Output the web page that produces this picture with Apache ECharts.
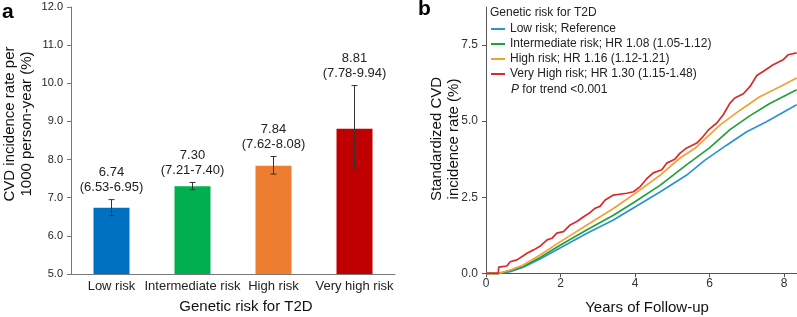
<!DOCTYPE html>
<html>
<head>
<meta charset="utf-8">
<script src="https://cdn.jsdelivr.net/npm/echarts@6/dist/echarts.min.js"></script>
<style>
  html, body { margin: 0; padding: 0; background: #fff; }
  #chart { width: 797px; height: 317px; }
</style>
</head>
<body>
<div id="chart"></div>
<script>
// panel a: incidence rate per 1000 person-year
const categories = ['Low risk', 'Intermediate risk', 'High risk', 'Very high risk']
const rates = [6.74, 7.30, 7.84, 8.81]
const lowerCI = [6.53, 7.21, 7.62, 7.78]
const upperCI = [6.95, 7.40, 8.08, 9.94]
const rateTicks = [5, 6, 7, 8, 9, 10, 11, 12]

// panel b: standardized cumulative incidence, [year, %]
const lowRisk = [[0, 0], [0.35, 0], [0.65, 0.05], [1.0, 0.2], [1.45, 0.47], [2.0, 0.84], [2.7, 1.31], [3.42, 1.75],
  [4.0, 2.18], [4.67, 2.67], [5.38, 3.22], [5.88, 3.72], [6.46, 4.21], [7.0, 4.65], [7.53, 4.98], [8.34, 5.54]]
const intermediateRisk = [[0, 0], [0.35, 0], [0.65, 0.09], [1.0, 0.22], [1.45, 0.52], [2.0, 0.93], [2.7, 1.42], [3.42, 1.91],
  [4.0, 2.35], [4.67, 2.89], [5.4, 3.58], [6.0, 4.12], [6.55, 4.72], [7.09, 5.18], [7.62, 5.58], [8.34, 6.03]]
const highRisk = [[0, 0], [0.35, 0], [0.65, 0.11], [1.0, 0.27], [1.45, 0.6], [2.0, 1.04], [2.7, 1.58], [3.42, 2.13],
  [4.0, 2.62], [4.67, 3.22], [5.2, 3.78], [5.6, 4.1], [6.28, 4.87], [6.82, 5.36], [7.35, 5.8], [7.89, 6.13], [8.34, 6.42]]
const veryHighRisk = [[0, 0], [0.33, 0], [0.34, 0.2], [0.56, 0.24], [0.65, 0.38], [0.83, 0.44], [0.97, 0.55], [1.10, 0.66],
  [1.28, 0.77], [1.46, 0.9], [1.64, 1.1], [1.77, 1.15], [1.90, 1.32], [2.08, 1.37], [2.26, 1.59], [2.44, 1.7],
  [2.62, 1.86], [2.80, 2.0], [2.93, 2.14], [3.06, 2.2], [3.20, 2.41], [3.42, 2.57], [3.78, 2.63], [3.96, 2.68],
  [4.14, 2.85], [4.31, 3.1], [4.49, 3.3], [4.72, 3.4], [4.85, 3.62], [5.07, 3.75], [5.21, 3.95], [5.39, 4.12],
  [5.66, 4.28], [5.79, 4.44], [5.97, 4.71], [6.19, 4.93], [6.37, 5.21], [6.55, 5.59], [6.68, 5.76], [6.91, 5.9],
  [7.09, 6.14], [7.27, 6.5], [7.44, 6.63], [7.71, 6.85], [7.98, 7.02], [8.11, 7.18], [8.34, 7.24]]
const curveNames = [
  'Low risk; Reference',
  'Intermediate risk; HR 1.08 (1.05-1.12)',
  'High risk; HR 1.16 (1.12-1.21)',
  'Very High risk; HR 1.30 (1.15-1.48)'
]
const yearTicks = [0, 2, 4, 6, 8]
const incidenceTicks = [0, 2.5, 5, 7.5]

const FONT = '"Liberation Sans", Arial, Helvetica, sans-serif'
const barColors = ['#0070c0', '#00b050', '#ed7d31', '#c00000']
const lineColors = ['#2b93d6', '#22a03a', '#f5a033', '#d92a2c']
const axisGray = '#777'

const chart = echarts.init(document.getElementById('chart'))

const errorData = categories.map((c, i) => [i, lowerCI[i], upperCI[i], rates[i]])

const renderError = (params, api) => {
  const lo = api.coord([api.value(0), api.value(1)])
  const hi = api.coord([api.value(0), api.value(2)])
  const x = lo[0]
  const line = { stroke: '#333', lineWidth: 1 }
  const i = params.dataIndex
  return {
    type: 'group',
    children: [
      { type: 'line', shape: { x1: x, y1: lo[1], x2: x, y2: hi[1] }, style: line },
      { type: 'line', shape: { x1: x - 3, y1: lo[1], x2: x + 3, y2: lo[1] }, style: line },
      { type: 'line', shape: { x1: x - 3, y1: hi[1], x2: x + 3, y2: hi[1] }, style: line },
      {
        type: 'text',
        x: x,
        y: hi[1] - 5,
        style: {
          text: rates[i].toFixed(2) + '\n(' + lowerCI[i].toFixed(2) + '-' + upperCI[i].toFixed(2) + ')',
          align: 'center',
          verticalAlign: 'bottom',
          fontSize: 13,
          fontFamily: FONT,
          lineHeight: 15,
          fill: '#222'
        }
      }
    ]
  }
}

const curves = [lowRisk, intermediateRisk, highRisk, veryHighRisk]

const option = {
  animation: false,
  textStyle: { fontFamily: FONT },
  grid: [
    { left: 71, top: 7, width: 324, height: 267 },
    { left: 486, top: 7, width: 311, height: 266.3 }
  ],
  xAxis: [
    {
      type: 'category',
      gridIndex: 0,
      data: categories,
      axisLine: { lineStyle: { color: axisGray } },
      axisTick: { show: false },
      axisLabel: { fontSize: 13, color: '#222', margin: 6, interval: 0 }
    },
    {
      type: 'value',
      gridIndex: 1,
      min: 0,
      max: 8.35,
      splitLine: { show: false },
      axisLine: { lineStyle: { color: '#555' } },
      axisTick: { length: 4, customValues: yearTicks, lineStyle: { color: '#555' } },
      axisLabel: { fontSize: 12, color: '#333', margin: 4, customValues: yearTicks }
    }
  ],
  yAxis: [
    {
      type: 'value',
      gridIndex: 0,
      min: 5,
      max: 12,
      interval: 1,
      splitLine: { show: false },
      axisLine: { show: true, lineStyle: { color: axisGray } },
      axisTick: { show: true, length: 4, customValues: rateTicks, lineStyle: { color: axisGray } },
      axisLabel: { fontSize: 11, color: '#222', margin: 8, customValues: rateTicks, formatter: v => v.toFixed(1) }
    },
    {
      type: 'value',
      gridIndex: 1,
      min: 0,
      max: 8.75,
      splitLine: { show: false },
      axisLine: { show: true, lineStyle: { color: '#555' } },
      axisTick: { show: true, length: 4, customValues: incidenceTicks, lineStyle: { color: '#555' } },
      axisLabel: { fontSize: 12, color: '#333', margin: 8, customValues: incidenceTicks, formatter: v => v.toFixed(1) }
    }
  ],
  legend: {
    orient: 'vertical',
    left: 491,
    top: 22,
    padding: 0,
    icon: 'rect',
    itemWidth: 14,
    itemHeight: 2,
    itemGap: 1,
    data: curveNames,
    textStyle: { fontSize: 12, color: '#222', lineHeight: 14 }
  },
  graphic: [
    { type: 'text', x: 2, y: 12.5, style: { text: 'a', font: 'bold 21px ' + FONT, fill: '#000', verticalAlign: 'middle' } },
    { type: 'text', x: 418, y: 9.5, style: { text: 'b', font: 'bold 21px ' + FONT, fill: '#000', verticalAlign: 'middle' } },
    {
      type: 'text', x: 18, y: 124, rotation: Math.PI / 2,
      style: { text: 'CVD incidence rate per\n1000 person-year (%)', font: '15px ' + FONT, lineHeight: 17, fill: '#111', align: 'center', verticalAlign: 'middle' }
    },
    {
      type: 'text', x: 445, y: 139, rotation: Math.PI / 2,
      style: { text: 'Standardized CVD\nincidence rate (%)', font: '15px ' + FONT, lineHeight: 17, fill: '#111', align: 'center', verticalAlign: 'middle' }
    },
    { type: 'text', x: 246, y: 307, style: { text: 'Genetic risk for T2D', font: '15px ' + FONT, fill: '#111', align: 'center', verticalAlign: 'middle' } },
    { type: 'text', x: 647, y: 308, style: { text: 'Years of Follow-up', font: '15px ' + FONT, fill: '#111', align: 'center', verticalAlign: 'middle' } },
    { type: 'text', x: 490, y: 13, style: { text: 'Genetic risk for T2D', font: '12px ' + FONT, fill: '#222', verticalAlign: 'middle' } },
    {
      type: 'text', x: 511, y: 89.5,
      style: {
        text: '{i|P} for trend <0.001',
        font: '12px ' + FONT,
        fill: '#222',
        verticalAlign: 'middle',
        rich: { i: { fontStyle: 'italic', fontSize: 12, fontFamily: FONT, fill: '#222' } }
      }
    }
  ],
  series: [
    {
      type: 'bar',
      xAxisIndex: 0,
      yAxisIndex: 0,
      barWidth: 36,
      data: rates.map((v, i) => ({ value: v, itemStyle: { color: barColors[i] } }))
    },
    {
      type: 'custom',
      xAxisIndex: 0,
      yAxisIndex: 0,
      renderItem: renderError,
      encode: { x: 0, y: [1, 2] },
      data: errorData,
      z: 5
    },
    ...curves.map((d, i) => ({
      name: curveNames[i],
      type: 'line',
      xAxisIndex: 1,
      yAxisIndex: 1,
      data: d,
      clip: false,
      showSymbol: false,
      symbol: 'none',
      color: lineColors[i],
      lineStyle: { width: 1.7, color: lineColors[i] }
    }))
  ]
}

chart.setOption(option)
</script>
</body>
</html>
